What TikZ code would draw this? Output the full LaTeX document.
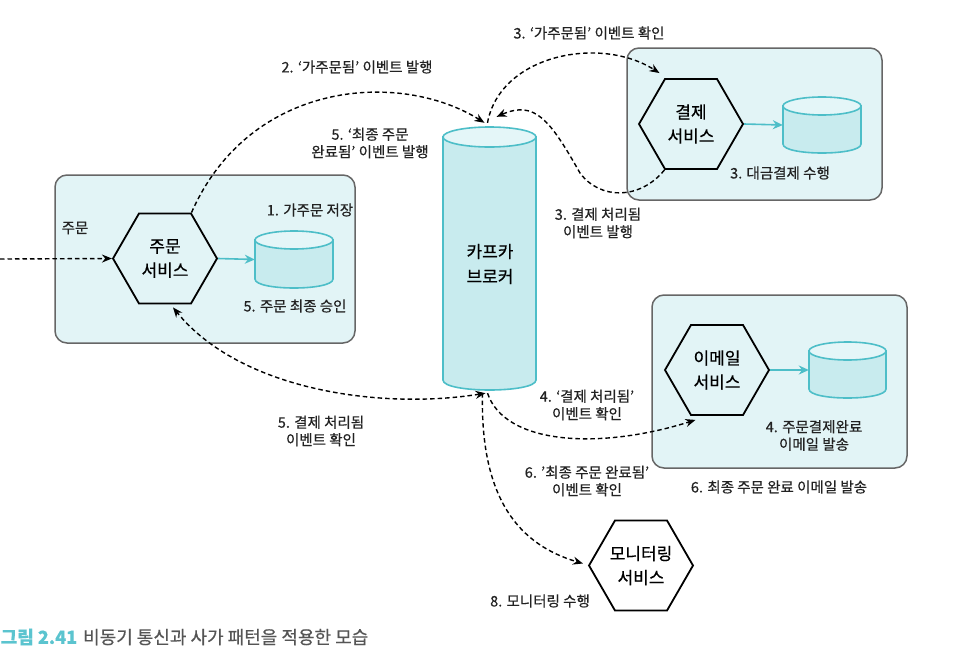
\documentclass[tikz,border=0pt]{standalone}
\usepackage{fontspec}
\setmainfont{Noto Sans CJK KR}[FakeBold=0.5]
\usetikzlibrary{shapes.geometric,arrows.meta}
\definecolor{boxfill}{HTML}{E2F4F6}
\definecolor{boxline}{HTML}{666666}
\definecolor{cylfill}{HTML}{C8EBEE}
\definecolor{cyltop}{HTML}{E4F6F8}
\definecolor{tealc}{HTML}{4DBEC8}
\definecolor{capteal}{HTML}{5BC4CF}
\definecolor{capgray}{HTML}{555555}
\definecolor{lbltxt}{HTML}{222222}
\newcommand\dbcyl[6]{%
  \node[inner sep=0pt, minimum width={2*#4}, minimum height={#5-#3}] (#1) at (#2,{(#3+#5)/2}) {};
  \filldraw[cylbody] ({#2-#4},{#3+#6}) -- ({#2-#4},{#5-#6}) .. controls ({#2-#4},{#5+#6/3}) and ({#2+#4},{#5+#6/3}) .. ({#2+#4},{#5-#6}) -- ({#2+#4},{#3+#6}) -- cycle;
  \filldraw[cylcap] (#2,{#3+#6}) ellipse [x radius=#4, y radius=#6];
}
\tikzset{
  svcbox/.style={draw=boxline, line width=1.5pt, fill=boxfill, rounded corners=12pt, inner sep=0pt},
  hexa/.style={regular polygon, regular polygon sides=6, minimum size=104pt, inner sep=0pt,
    draw=black, line width=1.8pt, fill=boxfill, font=\fontsize{17}{24}\selectfont, align=center},
  lbl/.style={font=\fontsize{14.5}{17.5}\selectfont, align=center, text=lbltxt, inner sep=0pt},
  cylbody/.style={draw=tealc, line width=1.6pt, fill=cylfill},
  cylcap/.style={draw=tealc, line width=1.6pt, fill=cyltop},
  flow/.style={line width=1.4pt, dash pattern=on 4.5pt off 3pt, -{Stealth[length=10pt,width=8pt]}},
  flow2/.style={line width=1.4pt, dash pattern=on 4.5pt off 3pt, {Stealth[length=10pt,width=8pt]}-{Stealth[length=10pt,width=8pt]}},
  store/.style={draw=tealc, line width=1.6pt, -{Stealth[length=10pt,width=9pt]}}
}
\begin{document}
\begin{tikzpicture}[x=1pt,y=-1pt]
\useasboundingbox (0,0) rectangle (956,659);
% boxes
\node[svcbox, minimum width=300pt, minimum height=168pt] (obox) at (205,259) {};
\node[svcbox, minimum width=255pt, minimum height=152pt] (pbox) at (754.5,124) {};
\node[svcbox, minimum width=255pt, minimum height=173pt] (ebox) at (779.5,381.5) {};
% hexagons
\node[hexa] (ord) at (165,258.5) {주문\\서비스};
\node[hexa] (pay) at (691,124) {결제\\서비스};
\node[hexa] (eml) at (717,370) {이메일\\서비스};
\node[hexa, fill=white] (mon) at (641,565.5) {모니터링\\서비스};
% cylinders
\dbcyl{kaf}{489.5}{127}{46.5}{390}{10}
\dbcyl{odb}{294}{231}{39}{288}{9}
\dbcyl{pdb}{822}{97}{39}{153}{9}
\dbcyl{edb}{847.5}{342}{38.5}{398}{9}
\node[font=\fontsize{17}{25}\selectfont, align=center, inner sep=0pt] (kaft) at (490,264) {카프카\\브로커};
% teal arrows
\draw[store] (ord.east) -- (odb.west);
\draw[store] (pay.east) -- (pdb.west);
\draw[store] (eml.east) -- (edb.west);
% labels
\node[lbl] (l0) at (75,228) {주문};
\node[lbl] (l1) at (310,210) {1. 가주문 저장};
\node[lbl] (l5a) at (295,306) {5. 주문 최종 승인};
\node[lbl] (l3a) at (780,173) {3. 대금결제 수행};
\node[lbl] (l4a) at (814,435.5) {4. 주문결제완료\\이메일 발송};
\node[lbl] (l6a) at (779,487) {6. 최종 주문 완료 이메일 발송};
\node[lbl] (l8) at (540,601) {8. 모니터링 수행};
\node[lbl] (l2) at (357,67) {2. ‘가주문됨’ 이벤트 발행};
\node[lbl] (l5b) at (370,143) {5. ‘최종 주문\\완료됨’ 이벤트 발행};
\node[lbl] (l3b) at (589,33) {3. ‘가주문됨’ 이벤트 확인};
\node[lbl] (l3c) at (598,223) {3. 결제 처리됨\\이벤트 발행};
\node[lbl] (l4b) at (587,405) {4. ‘결제 처리됨’\\이벤트 확인};
\node[lbl] (l6b) at (587,481) {6. ’최종 주문 완료됨’\\이벤트 확인};
\node[lbl] (l5c) at (321,431) {5. 결제 처리됨\\이벤트 확인};
% connector end points
\coordinate (inp) at (0,259);
\coordinate (k2) at ([xshift=-5pt,yshift=4pt]kaf.north);
\coordinate (k3) at ([xshift=-2pt,yshift=4pt]kaf.north);
\coordinate (k4) at ([xshift=7pt,yshift=10pt]kaf.north);
\coordinate (p3) at ([xshift=-5pt,yshift=5pt]pay.120);
\coordinate (k6) at ([xshift=-4pt,yshift=-3pt]kaf.south);
\coordinate (o6) at ([xshift=8pt,yshift=-3pt]ord.south);
\coordinate (k7) at ([xshift=-2pt,yshift=-3pt]kaf.south);
\coordinate (e7) at ([xshift=5pt,yshift=-4pt]eml.240);
\coordinate (k8) at ([xshift=-7pt,yshift=-3pt]kaf.south);
\coordinate (m8) at ([xshift=-5pt,yshift=2pt]mon.west);
% dashed flows
\draw[flow] (inp) -- (ord.west);
\draw[flow] (ord.60) .. controls (250,80) and (400,70) .. (k2);
\draw[flow] (k3) .. controls (500,55) and (600,35) .. (p3);
\draw[flow] (pay.240) .. controls (640,200) and (600,200) .. (580,173) .. controls (550,120) and (535,100) .. (k4);
\draw[flow2] (k6) .. controls (380,410) and (240,390) .. (o6);
\draw[flow] (k7) .. controls (505,445) and (600,450) .. (e7);
\draw[flow] (k8) .. controls (480,500) and (520,545) .. (m8);
% caption
\node[anchor=west, inner sep=0pt, font=\fontsize{18}{21}\selectfont] (cap) at (0.5,637) {{\color{capteal}\bfseries 그림 2.41}\hspace{6pt}\color{capgray}비동기 통신과 사가 패턴을 적용한 모습};
\end{tikzpicture}
\end{document}
